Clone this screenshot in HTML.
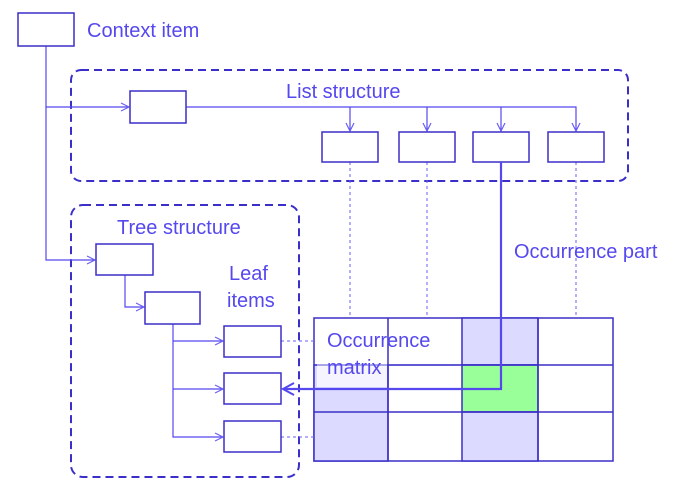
<!DOCTYPE html>
<html><head><style>body{margin:0;background:#fff}svg{display:block}text{font-family:"Liberation Sans",sans-serif;fill:#5548ee;font-size:20px}</style></head><body>
<svg width="683" height="488" viewBox="0 0 683 488" xmlns="http://www.w3.org/2000/svg">
<defs><marker id="a" markerWidth="10" markerHeight="10" refX="9" refY="5" orient="auto" markerUnits="userSpaceOnUse"><path d="M1,1 L9,5 L1,9" fill="none" stroke="#6a5ff5" stroke-width="1.2"/></marker>
<marker id="b" markerWidth="14" markerHeight="14" refX="13" refY="7" orient="auto" markerUnits="userSpaceOnUse"><path d="M4,1 L13,7 L4,13" fill="none" stroke="#5548ee" stroke-width="2"/></marker></defs>
<g stroke="#3b2fc9" stroke-width="1.5">
<rect x="314" y="318" width="299" height="143" fill="#fff"/>
<rect x="314" y="365" width="74" height="96" fill="#dcdaff"/>
<rect x="462" y="318" width="76" height="47" fill="#dcdaff"/>
<rect x="462" y="365" width="76" height="47" fill="#99ff99"/>
<rect x="462" y="412" width="76" height="49" fill="#dcdaff"/>
<line x1="388" y1="318" x2="388" y2="461"/><line x1="538" y1="318" x2="538" y2="461"/>
<line x1="314" y1="412" x2="613" y2="412"/><line x1="388" y1="365" x2="613" y2="365"/>
</g>
<rect x="317" y="321" width="70" height="66" fill="#fff" opacity="0.7"/>
<line x1="314" y1="365" x2="462" y2="365" stroke="#3b2fc9" stroke-width="1.5" opacity="0.35"/>
<text x="327" y="347">Occurrence</text><text x="327" y="374">matrix</text>
<g fill="none" stroke="#3b2fc9" stroke-width="2" stroke-dasharray="8,5">
<rect x="71" y="70" width="557" height="111" rx="10"/>
<rect x="71" y="205" width="228" height="272" rx="12"/>
</g>
<g stroke="#6a5ff5" stroke-width="1" stroke-dasharray="3,3">
<line x1="350" y1="162" x2="350" y2="318"/><line x1="427" y1="162" x2="427" y2="318"/><line x1="576" y1="162" x2="576" y2="318"/>
<line x1="281" y1="341" x2="314" y2="341"/><line x1="281" y1="437" x2="314" y2="437"/>
</g>
<g fill="none" stroke="#5548ee" stroke-width="1.2">
<path d="M46 46 V260 H95" marker-end="url(#a)"/>
<path d="M46 107 H129" marker-end="url(#a)"/>
<path d="M186 107 H576 V131"  marker-end="url(#a)"/>
<path d="M350 107 V131" marker-end="url(#a)"/>
<path d="M427 107 V131" marker-end="url(#a)"/>
<path d="M501 107 V131" marker-end="url(#a)"/>
<path d="M125 275 V307 H144" marker-end="url(#a)"/>
<path d="M173 324 V437 H223" marker-end="url(#a)"/>
<path d="M173 341 H223" marker-end="url(#a)"/>
<path d="M173 389 H223" marker-end="url(#a)"/>
</g>
<g fill="#fff" stroke="#3b2fc9" stroke-width="1.5">
<rect x="18" y="13" width="56" height="33"/>
<rect x="130" y="91" width="56" height="32"/>
<rect x="322" y="132" width="56" height="30"/><rect x="399" y="132" width="56" height="30"/>
<rect x="473" y="132" width="56" height="30"/><rect x="548" y="132" width="56" height="30"/>
<rect x="96" y="244" width="57" height="31"/><rect x="145" y="292" width="55" height="32"/>
<rect x="224" y="326" width="57" height="31"/><rect x="224" y="373" width="57" height="31"/><rect x="224" y="421" width="57" height="31"/>
</g>
<path d="M501 162 V389 H283" fill="none" stroke="#5548ee" stroke-width="2.2"/>
<path d="M294 383 L283 389 L294 395" fill="none" stroke="#5548ee" stroke-width="2"/>
<text x="87" y="37">Context item</text>
<text x="286" y="98">List structure</text>
<text x="117" y="234">Tree structure</text>
<text x="229" y="280">Leaf</text><text x="227" y="307">items</text>
<text x="514" y="258">Occurrence part</text>
</svg></body></html>
